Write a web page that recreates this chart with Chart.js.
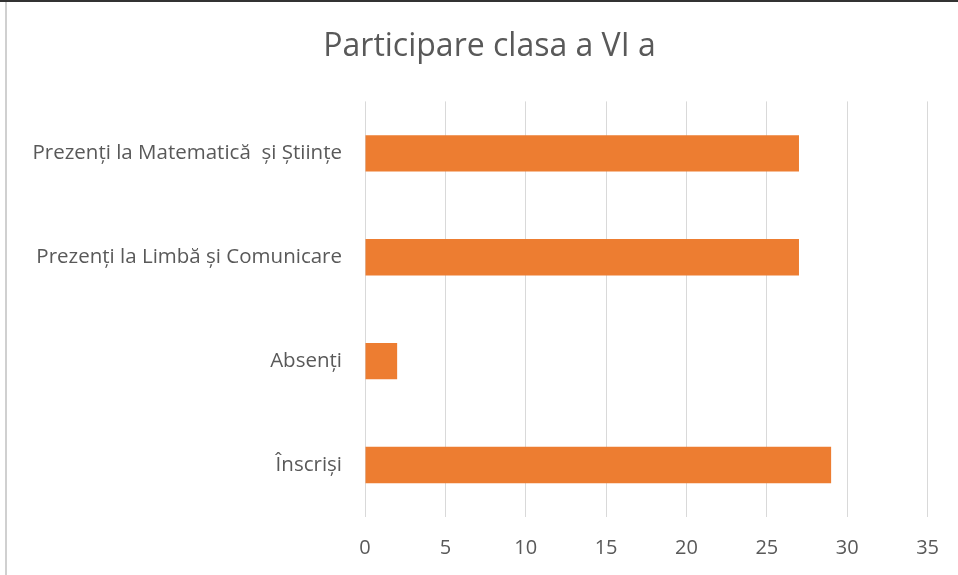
<!DOCTYPE html>
<html><head><meta charset="utf-8">
<script src="https://cdn.jsdelivr.net/npm/chart.js@4.4.0/dist/chart.umd.min.js"></script>
<style>
html,body{margin:0;padding:0;background:#fff;}
#wrap{position:relative;width:958px;height:575px;overflow:hidden;}
#frameTop{position:absolute;left:0;top:0;width:958px;height:2px;background:#333;}
#frameLeft{position:absolute;left:5px;top:2px;width:2px;height:573px;background:#d0d0d0;}
canvas{position:absolute;left:0;top:0;}
</style></head>
<body>
<div id="wrap"><canvas id="c" width="958" height="575"></canvas><div id="frameTop"></div><div id="frameLeft"></div></div>
<script>
const categories = ["Prezenți la Matematică  și Științe", "Prezenți la Limbă și Comunicare", "Absenți", "Înscriși"];
const values = [27, 27, 2, 29];
const xTicks = [0, 5, 10, 15, 20, 25, 30, 35];
const titleText = "Participare clasa a VI a";

const FONT = "'Open Sans', 'Noto Sans', sans-serif";
const shiftTitle = {
  id: 'shiftTitle',
  afterLayout(chart) {
    const t = chart.titleBlock;
    if (t) { t.left += 50; t.right += 0; }
  }
};
new Chart(document.getElementById('c'), {
  type: 'bar',
  data: { labels: categories, datasets: [{ data: values, backgroundColor: '#ED7D31', borderWidth: 0, barPercentage: 0.7, categoryPercentage: 0.5 }] },
  options: {
    indexAxis: 'y', responsive: false, animation: false,
    layout: { padding: { left: 0, right: 29, top: 0, bottom: 0 } },
    plugins: {
      legend: { display: false }, tooltip: { enabled: false },
      title: { display: true, text: titleText, color: '#595959', font: { family: FONT, size: 32, weight: 'normal' }, padding: { top: 28, bottom: 35 } }
    },
    scales: {
      x: {
        min: 0, max: 35,
        afterBuildTicks: s => { s.ticks = xTicks.map(v => ({ value: v })); },
        grid: { color: '#d9d9d9', drawTicks: false, lineWidth: 1 },
        border: { display: false },
        ticks: { color: '#595959', font: { family: FONT, size: 20 }, padding: 19 },
        afterFit: s => { s.height = 58; }
      },
      y: {
        grid: { display: false }, border: { display: false },
        ticks: { color: '#595959', font: { family: FONT, size: 20.5 }, padding: 15 },
        afterFit: s => { s.width = 365; }
      }
    }
  },
  plugins: [shiftTitle]
});
</script>
</body></html>
